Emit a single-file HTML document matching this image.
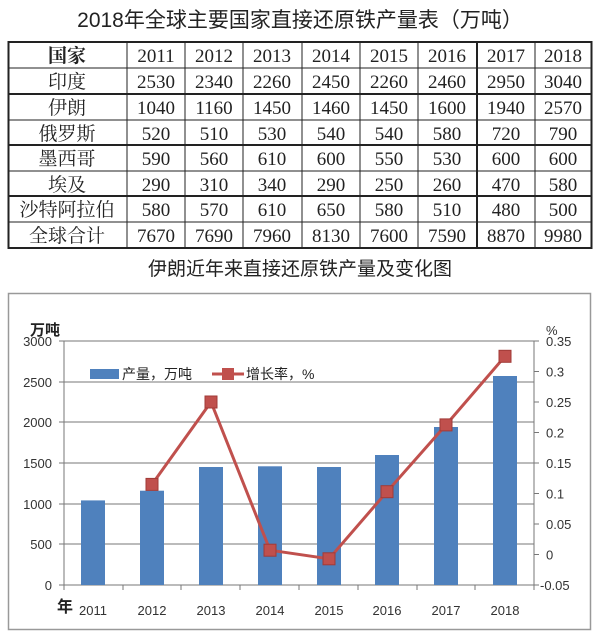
<!DOCTYPE html>
<html><head><meta charset="utf-8"><style>
body{margin:0;background:#fff;width:600px;height:634px;overflow:hidden}
svg{display:block}
.t{font-family:"Liberation Serif","Noto Serif CJK SC",serif;font-size:19px;fill:#222}
.c{font-family:"Liberation Sans","Noto Sans CJK SC",sans-serif;fill:#222}
.a{font-family:"Liberation Sans","Noto Sans CJK SC",sans-serif;font-size:13px;fill:#333}
</style></head><body>
<svg width="600" height="634" xmlns="http://www.w3.org/2000/svg">
<text x="300" y="27" text-anchor="middle" class="c" font-size="21">2018年全球主要国家直接还原铁产量表（万吨）</text>
<g stroke="#222" fill="none">
<rect x="8.5" y="42" width="583" height="206" stroke-width="2"/>
<line x1="8" y1="68" x2="592" y2="68" stroke-width="1"/>
<line x1="8" y1="94" x2="592" y2="94" stroke-width="2"/>
<line x1="8" y1="120" x2="592" y2="120" stroke-width="1"/>
<line x1="8" y1="145" x2="592" y2="145" stroke-width="2"/>
<line x1="8" y1="171" x2="592" y2="171" stroke-width="1"/>
<line x1="8" y1="196" x2="592" y2="196" stroke-width="2"/>
<line x1="8" y1="222" x2="592" y2="222" stroke-width="1"/>
<line x1="127" y1="42" x2="127" y2="248"/>
<line x1="185" y1="42" x2="185" y2="248"/>
<line x1="243" y1="42" x2="243" y2="248"/>
<line x1="302" y1="42" x2="302" y2="248"/>
<line x1="360" y1="42" x2="360" y2="248"/>
<line x1="418" y1="42" x2="418" y2="248"/>
<line x1="477" y1="42" x2="477" y2="248" stroke-width="2"/>
<line x1="535" y1="42" x2="535" y2="248"/>
</g>
<g class="t" text-anchor="middle">
<text x="67" y="62" font-weight="bold">国家</text>
<text x="156" y="62">2011</text><text x="214" y="62">2012</text><text x="272" y="62">2013</text><text x="331" y="62">2014</text><text x="389" y="62">2015</text><text x="447" y="62">2016</text><text x="506" y="62">2017</text><text x="563" y="62">2018</text>
<text x="67" y="88">印度</text>
<text x="156" y="88">2530</text><text x="214" y="88">2340</text><text x="272" y="88">2260</text><text x="331" y="88">2450</text><text x="389" y="88">2260</text><text x="447" y="88">2460</text><text x="506" y="88">2950</text><text x="563" y="88">3040</text>
<text x="67" y="114">伊朗</text>
<text x="156" y="114">1040</text><text x="214" y="114">1160</text><text x="272" y="114">1450</text><text x="331" y="114">1460</text><text x="389" y="114">1450</text><text x="447" y="114">1600</text><text x="506" y="114">1940</text><text x="563" y="114">2570</text>
<text x="67" y="140">俄罗斯</text>
<text x="156" y="140">520</text><text x="214" y="140">510</text><text x="272" y="140">530</text><text x="331" y="140">540</text><text x="389" y="140">540</text><text x="447" y="140">580</text><text x="506" y="140">720</text><text x="563" y="140">790</text>
<text x="67" y="165">墨西哥</text>
<text x="156" y="165">590</text><text x="214" y="165">560</text><text x="272" y="165">610</text><text x="331" y="165">600</text><text x="389" y="165">550</text><text x="447" y="165">530</text><text x="506" y="165">600</text><text x="563" y="165">600</text>
<text x="67" y="191">埃及</text>
<text x="156" y="191">290</text><text x="214" y="191">310</text><text x="272" y="191">340</text><text x="331" y="191">290</text><text x="389" y="191">250</text><text x="447" y="191">260</text><text x="506" y="191">470</text><text x="563" y="191">580</text>
<text x="67" y="216">沙特阿拉伯</text>
<text x="156" y="216">580</text><text x="214" y="216">570</text><text x="272" y="216">610</text><text x="331" y="216">650</text><text x="389" y="216">580</text><text x="447" y="216">510</text><text x="506" y="216">480</text><text x="563" y="216">500</text>
<text x="67" y="242">全球合计</text>
<text x="156" y="242">7670</text><text x="214" y="242">7690</text><text x="272" y="242">7960</text><text x="331" y="242">8130</text><text x="389" y="242">7600</text><text x="447" y="242">7590</text><text x="506" y="242">8870</text><text x="563" y="242">9980</text>
</g>
<text x="300" y="275" text-anchor="middle" class="c" font-size="19">伊朗近年来直接还原铁产量及变化图</text>
<rect x="8.5" y="293.5" width="582" height="336" fill="none" stroke="#999" stroke-width="1.5"/>
<g stroke="#777" stroke-width="1">
<line x1="64" y1="341" x2="534" y2="341"/><line x1="64" y1="382" x2="534" y2="382"/><line x1="64" y1="422" x2="534" y2="422"/><line x1="64" y1="463" x2="534" y2="463"/><line x1="64" y1="504" x2="534" y2="504"/><line x1="64" y1="544" x2="534" y2="544"/><line x1="64" y1="585" x2="534" y2="585"/>
<line x1="64" y1="341" x2="64" y2="590"/><line x1="534" y1="341" x2="534" y2="590"/>
<line x1="59" y1="341" x2="64" y2="341"/><line x1="59" y1="382" x2="64" y2="382"/><line x1="59" y1="422" x2="64" y2="422"/><line x1="59" y1="463" x2="64" y2="463"/><line x1="59" y1="504" x2="64" y2="504"/><line x1="59" y1="544" x2="64" y2="544"/><line x1="59" y1="585" x2="64" y2="585"/>
<line x1="534" y1="341" x2="539" y2="341"/><line x1="534" y1="371.5" x2="539" y2="371.5"/><line x1="534" y1="402" x2="539" y2="402"/><line x1="534" y1="432.5" x2="539" y2="432.5"/><line x1="534" y1="463" x2="539" y2="463"/><line x1="534" y1="493.5" x2="539" y2="493.5"/><line x1="534" y1="524" x2="539" y2="524"/><line x1="534" y1="554.5" x2="539" y2="554.5"/><line x1="534" y1="585" x2="539" y2="585"/>
<line x1="123" y1="585" x2="123" y2="590"/><line x1="181" y1="585" x2="181" y2="590"/><line x1="240" y1="585" x2="240" y2="590"/><line x1="299" y1="585" x2="299" y2="590"/><line x1="358" y1="585" x2="358" y2="590"/><line x1="417" y1="585" x2="417" y2="590"/><line x1="475" y1="585" x2="475" y2="590"/>
</g>
<g fill="#4f81bd">
<rect x="81" y="500.4" width="24" height="84.6"/><rect x="140" y="490.7" width="24" height="94.3"/><rect x="199" y="467" width="24" height="118"/><rect x="258" y="466.3" width="24" height="118.7"/><rect x="317" y="467" width="24" height="118"/><rect x="375" y="455" width="24" height="130"/><rect x="434" y="427" width="24" height="158"/><rect x="493" y="376" width="24" height="209"/>
</g>
<polyline fill="none" stroke="#c0504d" stroke-width="3" points="152,484.4 211,402 270,550.2 329,558.8 387,491.7 446,424.9 505,356.3"/>
<g fill="#c0504d" stroke="#a03a37" stroke-width="1">
<rect x="146" y="478.4" width="12" height="12"/><rect x="205" y="396" width="12" height="12"/><rect x="264" y="544.2" width="12" height="12"/><rect x="323" y="552.8" width="12" height="12"/><rect x="381" y="485.7" width="12" height="12"/><rect x="440" y="418.9" width="12" height="12"/><rect x="499" y="350.3" width="12" height="12"/>
</g>
<rect x="90" y="369" width="29" height="10" fill="#4f81bd"/>
<text x="122" y="379" class="c" font-size="14">产量，万吨</text>
<line x1="212" y1="374" x2="244" y2="374" stroke="#c0504d" stroke-width="3"/>
<rect x="222" y="368" width="12" height="12" fill="#c0504d"/>
<text x="246" y="379" class="c" font-size="14">增长率，%</text>
<g class="a" text-anchor="end">
<text x="52" y="346">3000</text><text x="52" y="387">2500</text><text x="52" y="427">2000</text><text x="52" y="468">1500</text><text x="52" y="509">1000</text><text x="52" y="549">500</text><text x="52" y="590">0</text>
</g>
<g class="a">
<text x="546" y="346">0.35</text><text x="546" y="376.5">0.3</text><text x="546" y="407">0.25</text><text x="546" y="437.5">0.2</text><text x="546" y="468">0.15</text><text x="546" y="498.5">0.1</text><text x="546" y="529">0.05</text><text x="546" y="559.5">0</text><text x="540" y="590">-0.05</text>
<text x="546" y="335">%</text>
</g>
<g class="a" text-anchor="middle">
<text x="93" y="615">2011</text><text x="152" y="615">2012</text><text x="211" y="615">2013</text><text x="270" y="615">2014</text><text x="329" y="615">2015</text><text x="387" y="615">2016</text><text x="446" y="615">2017</text><text x="505" y="615">2018</text>
</g>
<text x="30" y="335" class="c" font-size="15" font-weight="bold">万吨</text>
<text x="57" y="612" class="c" font-size="16" font-weight="bold">年</text>
</svg>
</body></html>
